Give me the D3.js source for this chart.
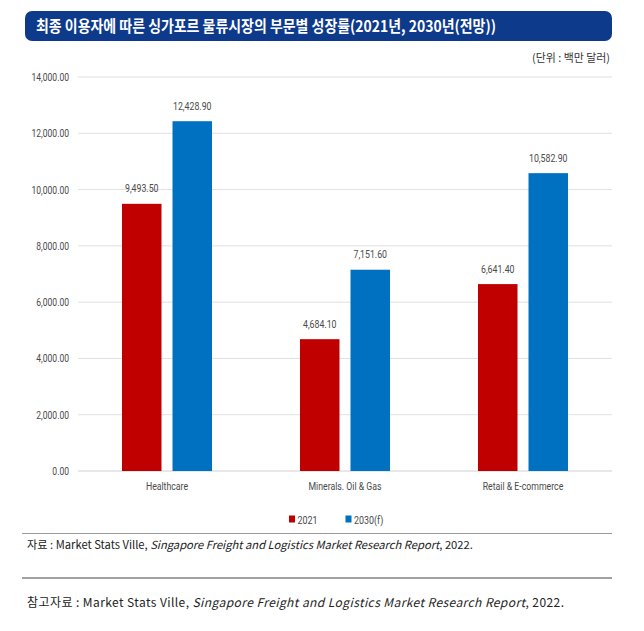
<!DOCTYPE html>
<html><head><meta charset="utf-8">
<script src="https://cdn.jsdelivr.net/npm/d3@7"></script>
<style>
body{margin:0;background:#fff;}
svg{display:block;}
</style></head>
<body>
<svg id="c" width="644" height="631"></svg>
<script>
const categories = ["Healthcare", "Minerals. Oil & Gas", "Retail & E-commerce"];
const seriesNames = ["2021", "2030(f)"];
const values2021 = [9493.5, 4684.1, 6641.4];
const values2030 = [12428.9, 7151.6, 10582.9];
const yTicks = [0, 2000, 4000, 6000, 8000, 10000, 12000, 14000];
const colors = ["#C00000", "#0070C0"];
const titleText = "최종 이용자에 따른 싱가포르 물류시장의 부문별 성장률(2021년, 2030년(전망))";
const unitText = "(단위 : 백만 달러)";

const svg = d3.select("#c");
const narrow = "Roboto,'Noto Sans',sans-serif";
const kr = "'Noto Sans CJK KR','Noto Sans',sans-serif";

function factor(sample, size, target){
  const t = svg.append("text").attr("font-family",narrow).attr("font-size",size).text(sample);
  const w = t.node().getComputedTextLength(); t.remove();
  return target / w;
}
function condense(sel, k){
  sel.each(function(){
    const w = this.getComputedTextLength();
    d3.select(this).attr("textLength", w*k).attr("lengthAdjust","spacingAndGlyphs");
  });
}

// title banner
svg.append("rect").attr("x",25).attr("y",11).attr("width",587).attr("height",30)
  .attr("rx",7).attr("fill","#0E3A8C");
svg.append("text").attr("x",36).attr("y",32).attr("fill","#fff")
  .attr("font-family",kr).attr("font-weight","bold").attr("font-size",15.5)
  .attr("textLength",460).attr("lengthAdjust","spacingAndGlyphs").text(titleText);

svg.append("text").attr("x",610).attr("y",62).attr("text-anchor","end")
  .attr("font-family",kr).attr("font-size",11).attr("fill","#333")
  .attr("textLength",78).attr("lengthAdjust","spacingAndGlyphs").text(unitText);

const x0 = d3.scaleBand().domain(categories).range([78,612]);
const y = d3.scaleLinear().domain([0,14000]).range([471,77]);
const data = categories.map((c,i)=>({cat:c, vals:[values2021[i], values2030[i]]}));

// gridlines
svg.append("g").selectAll("line").data(yTicks).join("line")
  .attr("x1",78).attr("x2",612).attr("y1",d=>y(d)).attr("y2",d=>y(d))
  .attr("stroke",d=>d===0?"#d0d0d0":"#e0e0e0").attr("stroke-width",1);

const FS = 11;
const txtCol = "#4a4a4a";
// y axis labels
const fmt = d3.format(",.2f");
const yAxis = d3.axisLeft(y).tickValues(yTicks).tickFormat(fmt).tickSize(0).tickPadding(0);
const gy = svg.append("g").attr("transform","translate(69,0)").call(yAxis);
gy.select(".domain").remove();
gy.selectAll("text").attr("font-family",narrow).attr("font-size",FS).attr("fill",txtCol);
condense(gy.selectAll("text"), factor("12,000.00", FS, 37.5));

// bars
const barW = 39.5, gap = 11;
const g = svg.append("g");
const kVal = factor("12,428.90", FS, 38.5);
data.forEach((d)=>{
  const cx = x0(d.cat) + x0.bandwidth()/2;
  d.vals.forEach((v,j)=>{
    const bx = j===0 ? cx - gap/2 - barW : cx + gap/2;
    g.append("rect").attr("x",bx).attr("y",y(v)).attr("width",barW)
      .attr("height",y(0)-y(v)).attr("fill",colors[j]);
    const t = g.append("text").attr("x",bx+barW/2).attr("y",y(v)-11.5).attr("text-anchor","middle")
      .attr("font-family",narrow).attr("font-size",FS).attr("fill",txtCol).text(fmt(v));
    condense(t, kVal);
  });
});

// x axis labels
const xAxis = d3.axisBottom(x0).tickSize(0).tickPadding(0);
const gx = svg.append("g").attr("transform","translate(0,486)").call(xAxis);
gx.select(".domain").remove();
gx.selectAll("text").attr("font-family",narrow).attr("font-size",FS).attr("fill",txtCol).attr("dy","0.34em");
condense(gx.selectAll("text"), factor("Minerals. Oil & Gas", FS, 73));

// legend
const legX = [289, 345.5];
const kLeg = factor("2021", FS, 20);
seriesNames.forEach((s,i)=>{
  svg.append("rect").attr("x",legX[i]).attr("y",515.5).attr("width",6).attr("height",7).attr("fill",colors[i]);
  const t = svg.append("text").attr("x",legX[i]+8.5).attr("y",523.5).attr("font-family",narrow)
    .attr("font-size",FS).attr("fill",txtCol).text(s);
  condense(t, kLeg);
});

// source lines
svg.append("line").attr("x1",22).attr("x2",612).attr("y1",533.5).attr("y2",533.5).attr("stroke","#999").attr("stroke-width",1);
function sourceLine(yy, prefix, target, spaced){
  const t = svg.append("text").attr("x",27).attr("y",yy).attr("font-family",kr).attr("font-size",12).attr("fill","#222");
  t.append("tspan").text(prefix + " : Market Stats Ville, ");
  t.append("tspan").attr("font-style","italic").text("Singapore Freight and Logistics Market Research Report");
  t.append("tspan").text(", 2022.");
  const w = t.node().getComputedTextLength();
  if(spaced){
    const n = t.text().length;
    t.attr("letter-spacing", (target - w) / (n - 1));
  } else {
    t.attr("font-size", 12 * target / w);
  }
}
sourceLine(549, "자료", 446, false);
svg.append("line").attr("x1",22).attr("x2",612).attr("y1",578).attr("y2",578).attr("stroke","#444").attr("stroke-width",1);
sourceLine(607, "참고자료", 537, true);
</script>
</body></html>
